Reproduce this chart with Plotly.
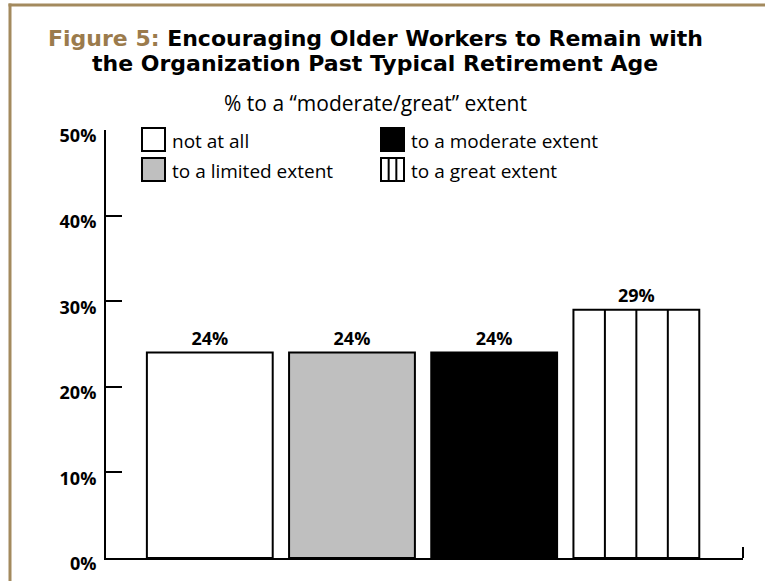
import plotly.graph_objects as go

# ---- data ----
categories = ["not at all", "to a limited extent", "to a moderate extent", "to a great extent"]
values = [24, 24, 24, 29]
y_ticks = [0, 10, 20, 30, 40, 50]
y_tick_labels = ["0%", "10%", "20%", "30%", "40%", "50%"]
title_line1_lead = "Figure 5:"
title_line1_rest = "Encouraging Older Workers to Remain with"
title_line2 = "the Organization Past Typical Retirement Age"
subtitle = "% to a “moderate/great” extent"

# ---- styling ----
fills = ["#ffffff", "#bfbfbf", "#000000", "#ffffff"]
GOLD = "#a38a5e"
TITLE_GOLD = "#9b7b4c"
W, H = 765, 581
ML, MR, MT, MB = 106, 22, 130, 23
PW, PH = W - ML - MR, H - MT - MB
BODY_FONT = "Open Sans"
TITLE_FONT = "DejaVu Sans"
BARGAP = 0.115
XR = [-0.73, 3.75]


def px(x):
    return (x - ML) / PW


def py(y):
    return (H - MB - y) / PH


xs = list(range(len(categories)))
fig = go.Figure()
fig.add_trace(go.Bar(
    x=xs, y=values,
    marker=dict(color=fills, line=dict(color="black", width=2)),
    text=[f"{v}%" for v in values], textposition="outside",
    textfont=dict(family=BODY_FONT, size=18, color="black", weight="bold"),
    cliponaxis=False, customdata=categories,
    hovertemplate="%{customdata}: %{y}%<extra></extra>", showlegend=False,
))

shapes = []
# vertical stripes inside the "great extent" bar
bw = 1 - BARGAP
i_great = 3
for k in (1, 2, 3):
    xk = i_great - bw / 2 + k * bw / 4
    shapes.append(dict(type="line", xref="x", yref="y", x0=xk, x1=xk, y0=0,
                       y1=values[i_great], line=dict(color="black", width=2)))

# right end tick of x axis
shapes.append(dict(type="line", xref="paper", yref="paper", x0=1, x1=1, y0=0,
                   y1=py(547), line=dict(color="black", width=2)))

# outer gold frame (top + left)
shapes.append(dict(type="line", xref="paper", yref="paper", x0=px(8.5), x1=px(765),
                   y0=py(5), y1=py(5), line=dict(color=GOLD, width=3)))
shapes.append(dict(type="line", xref="paper", yref="paper", x0=px(10), x1=px(10),
                   y0=py(3.5), y1=py(581), line=dict(color=GOLD, width=3)))

# manual legend
legend_pos = [(142, 128), (142, 158), (381, 128), (381, 158)]
annotations = []
BOX = 23
for i, (lx, ly) in enumerate(legend_pos):
    shapes.append(dict(type="rect", xref="paper", yref="paper",
                       x0=px(lx), x1=px(lx + BOX), y0=py(ly + BOX), y1=py(ly),
                       fillcolor=fills[i], line=dict(color="black", width=2)))
    if i == 3:
        for k in (1, 2):
            xx = lx + k * BOX / 3
            shapes.append(dict(type="line", xref="paper", yref="paper",
                               x0=px(xx), x1=px(xx), y0=py(ly + BOX), y1=py(ly),
                               line=dict(color="black", width=2)))
    annotations.append(dict(xref="paper", yref="paper", x=px(lx + BOX + 5),
                            y=py(ly + BOX / 2 + 1), xanchor="left", yanchor="middle",
                            text=categories[i], showarrow=False,
                            font=dict(family=BODY_FONT, size=19, color="black")))

# title (two lines)
annotations.append(dict(xref="paper", yref="paper", x=px(375), y=py(38),
                        xanchor="center", yanchor="middle", showarrow=False,
                        text=f"<span style='color:{TITLE_GOLD}'>{title_line1_lead}</span> "
                             f"{title_line1_rest}",
                        font=dict(family=TITLE_FONT, size=22, color="black", weight="bold")))
annotations.append(dict(xref="paper", yref="paper", x=px(375), y=py(63),
                        xanchor="center", yanchor="middle", showarrow=False,
                        text=title_line2,
                        font=dict(family=TITLE_FONT, size=22, color="black", weight="bold")))
annotations.append(dict(xref="paper", yref="paper", x=px(375), y=py(103),
                        xanchor="center", yanchor="middle", showarrow=False,
                        text=subtitle,
                        font=dict(family=BODY_FONT, size=21, color="black")))

fig.update_layout(
    width=W, height=H, margin=dict(l=ML, r=MR, t=MT, b=MB, autoexpand=False),
    paper_bgcolor="white", plot_bgcolor="white",
    bargap=BARGAP, shapes=shapes, annotations=annotations,
    xaxis=dict(range=XR, showticklabels=False, showgrid=False, zeroline=False,
               showline=True, linecolor="black", linewidth=2, ticks=""),
    yaxis=dict(range=[0, 50], tickvals=y_ticks, ticktext=y_tick_labels,
               showgrid=False, zeroline=False, showline=True, linecolor="black",
               linewidth=2, ticks="inside", ticklen=16, tickwidth=2,
               tickcolor="black", ticklabelstandoff=4, ticklabelshift=6,
               tickfont=dict(family=BODY_FONT, size=18, color="black", weight="bold")),
)

fig.write_html("out.html")
